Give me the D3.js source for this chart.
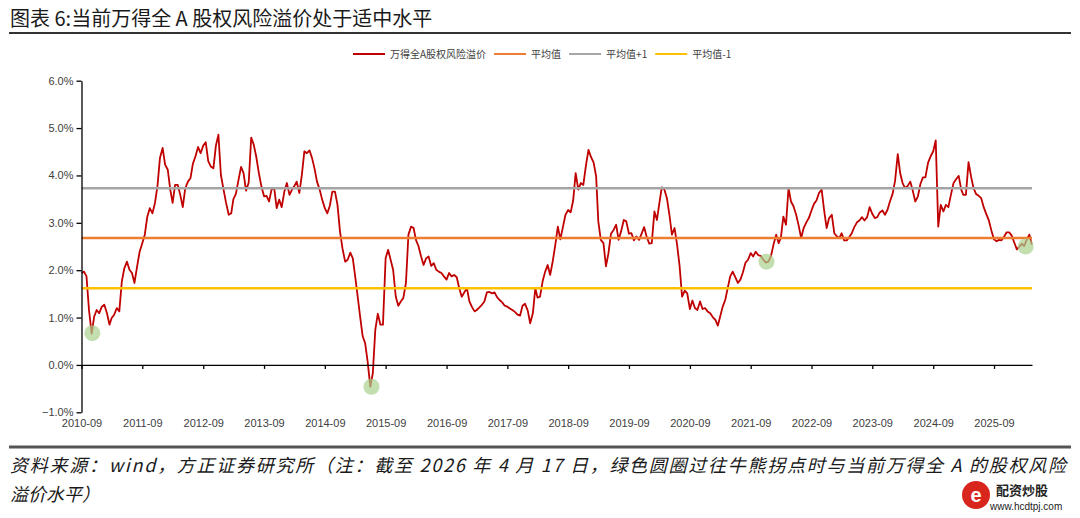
<!DOCTYPE html>
<html>
<head>
<meta charset="utf-8">
<script src="https://cdn.jsdelivr.net/npm/d3@7"></script>
<style>
  body { margin: 0; background: #fff; }
  svg text { font-family: "Liberation Sans", Arial, sans-serif; }
  .cjk { font-family: "Noto Sans CJK SC", "Noto Sans", sans-serif !important; }
</style>
</head>
<body>
<svg id="chart" width="1080" height="518"></svg>
<script>
// =====================
// DATA (semi-monthly readings, 1st and 16th of each month)
// =====================
const startDate = "2010-09-01";
const endDate = "2026-04-17";

const erp2010to2015 = [
  1.94, 1.97, 1.87, 1.16, 0.66, 1.02, 1.16, 1.09, 1.23, 1.27,
  1.09, 0.85, 0.99, 1.06, 1.20, 1.13, 1.76, 2.04, 2.18, 2.01,
  1.94, 1.73, 2.08, 2.39, 2.57, 2.75, 3.13, 3.31, 3.20, 3.42,
  3.77, 4.37, 4.58, 4.23, 4.12, 3.70, 3.42, 3.80, 3.80, 3.59,
  3.33, 3.73, 3.87, 3.94, 4.25, 4.40, 4.60, 4.47, 4.63, 4.70,
  4.30, 4.19, 4.15, 4.63, 4.86, 4.01, 3.70, 3.42, 3.17, 3.20,
  3.50, 3.61, 3.91, 4.18, 4.05, 3.68, 3.85, 4.80, 4.65, 4.40,
  4.05, 3.77, 3.56, 3.57, 3.45, 3.70, 3.73, 3.31, 3.49, 3.33,
  3.66, 3.84, 3.59, 3.70, 3.77, 3.87, 3.63, 4.01, 4.51, 4.47,
  4.53, 4.37, 4.15, 3.87, 3.70, 3.49, 3.31, 3.20, 3.36, 3.66,
  3.66, 3.38, 2.82, 2.46, 2.18, 2.22, 2.37, 2.25, 1.90, 1.48,
  1.02, 0.61, 0.46, 0.07, -0.46, -0.18, 0.74, 1.08, 0.85, 0.85,
  2.25, 2.43, 2.22, 2.01, 1.44, 1.25
];

const erp2016to2020 = [
  1.34, 1.41, 1.73, 2.75, 2.92, 2.89, 2.64, 2.51, 2.29, 2.11,
  2.25, 2.29, 2.09, 2.15, 2.01, 1.97, 1.94, 1.87, 1.80, 1.94,
  1.87, 1.90, 1.85, 1.62, 1.44, 1.53, 1.62, 1.34, 1.22, 1.13,
  1.16, 1.21, 1.27, 1.34, 1.53, 1.54, 1.51, 1.53, 1.43, 1.37,
  1.32, 1.25, 1.23, 1.19, 1.16, 1.12, 1.06, 1.04, 1.25, 1.29,
  1.15, 0.88, 1.09, 1.62, 1.42, 1.44, 1.77, 1.97, 2.11, 1.90,
  2.20, 2.54, 2.92, 2.65, 2.92, 3.17, 3.27, 3.22, 3.47, 4.05,
  3.70, 3.84, 3.80, 4.19, 4.54, 4.39, 4.27, 3.98, 3.03, 2.64,
  2.57, 2.08, 2.36, 2.77, 2.85, 2.96, 2.64, 2.82, 3.06, 3.03,
  2.77, 2.78, 2.63, 2.71, 2.64, 2.77, 2.91, 2.71, 2.56, 2.57,
  3.24, 3.06, 3.40, 3.75, 3.70, 3.52, 3.17, 2.75, 2.89, 2.54,
  2.09, 1.44, 1.57, 1.51, 1.18, 1.36, 1.20, 1.16, 1.34, 1.18,
  1.20, 1.13, 1.09, 1.01, 0.95, 0.83
];

const erp2021to2026 = [
  1.01, 1.22, 1.37, 1.62, 1.87, 1.97, 1.85, 1.73, 1.80, 1.95,
  2.16, 2.22, 2.36, 2.29, 2.39, 2.32, 2.30, 2.22, 2.16, 2.18,
  2.30, 2.54, 2.75, 2.57, 2.68, 3.13, 2.96, 3.73, 3.45, 3.35,
  3.17, 2.94, 2.68, 2.89, 3.01, 3.10, 3.26, 3.40, 3.47, 3.63,
  3.70, 3.26, 2.89, 3.10, 3.17, 2.78, 2.71, 2.68, 2.78, 2.63,
  2.63, 2.70, 2.78, 2.91, 3.01, 3.05, 3.12, 3.05, 3.12, 3.33,
  3.19, 3.10, 3.12, 3.22, 3.26, 3.17, 3.27, 3.45, 3.61, 3.89,
  4.45, 4.04, 3.84, 3.73, 3.78, 3.87, 3.68, 3.45, 3.56, 3.82,
  3.96, 3.96, 4.27, 4.40, 4.51, 4.74, 2.92, 3.38, 3.24, 3.38,
  3.33, 3.59, 3.84, 3.92, 3.99, 3.70, 3.59, 3.59, 4.28, 3.98,
  3.73, 3.61, 3.57, 3.52, 3.33, 3.19, 3.05, 2.84, 2.65, 2.61,
  2.64, 2.63, 2.71, 2.80, 2.80, 2.73, 2.58, 2.44, 2.50, 2.56,
  2.51, 2.64, 2.75, 2.54
];

// mean and +/- one std
const refNames = ["平均值", "平均值+1", "平均值-1"];
const refValues = [2.68, 3.73, 1.62];

// green circles: past bull/bear turning points and now
const turnDates = ["2010-11-05", "2015-06-08", "2021-12-05", "2026-03-10"];
const turnValues = [0.67, -0.46, 2.18, 2.50];

const yTicks = [-1, 0, 1, 2, 3, 4, 5, 6];
const xTickYears = d3.range(2010, 2026);

const seriesName = "万得全A股权风险溢价";
const titleText = "图表 6:当前万得全 A 股权风险溢价处于适中水平";
const noteLines = [
  "资料来源：wind，方正证券研究所（注：截至 2026 年 4 月 17 日，绿色圆圈过往牛熊拐点时与当前万得全 A 的股权风险",
  "溢价水平）"
];

// =====================
// SETUP
// =====================
const parse = d3.timeParse("%Y-%m-%d");
const svg = d3.select("#chart");

const colors = {
  [seriesName]: "#c00000",
  "平均值": "#ed7d31",
  "平均值+1": "#a5a5a5",
  "平均值-1": "#ffc000"
};

const erp = [...erp2010to2015, ...erp2016to2020, ...erp2021to2026];
const start = parse(startDate);
const series = erp.map((v, i) => ({
  date: d3.timeDay.offset(d3.timeMonth.offset(start, Math.floor(i / 2)), (i % 2) * 15),
  value: v
}));

const x = d3.scaleTime()
  .domain([start, parse(endDate)])
  .range([81.5, 1032]);

const y = d3.scaleLinear()
  .domain([-1, 6])
  .range([412.3, 80.7]);

// =====================
// TITLE
// =====================
svg.append("text")
  .attr("class", "cjk")
  .attr("x", 10)
  .attr("y", 26)
  .style("font-size", "20px")
  .style("fill", "#1a1a1a")
  .text(titleText);

svg.append("line")
  .attr("x1", 9).attr("x2", 1071)
  .attr("y1", 33).attr("y2", 33)
  .attr("stroke", "#333")
  .attr("stroke-width", 2);

// =====================
// LINES
// =====================
const line = d3.line()
  .x(d => x(d.date))
  .y(d => y(d.value));

svg.append("path")
  .datum(series)
  .attr("fill", "none")
  .attr("stroke", colors[seriesName])
  .attr("stroke-width", 1.8)
  .attr("stroke-linejoin", "round")
  .attr("d", line);

svg.selectAll(".ref")
  .data(refNames.map((k, i) => ({ key: k, value: refValues[i] })))
  .join("line")
  .attr("class", "ref")
  .attr("x1", x.range()[0])
  .attr("x2", x.range()[1])
  .attr("y1", d => y(d.value))
  .attr("y2", d => y(d.value))
  .attr("stroke", d => colors[d.key])
  .attr("stroke-width", 2.5);

svg.selectAll(".turn")
  .data(turnDates.map((d, i) => ({ date: parse(d), value: turnValues[i] })))
  .join("circle")
  .attr("class", "turn")
  .attr("cx", d => x(d.date))
  .attr("cy", d => y(d.value))
  .attr("r", 8)
  .attr("fill", "#a9d18e")
  .attr("fill-opacity", 0.7);

// =====================
// AXES
// =====================
const yAxis = svg.append("g")
  .attr("transform", `translate(${x.range()[0]},0)`)
  .call(d3.axisLeft(y)
    .tickValues(yTicks)
    .tickFormat(d => d3.format(".1f")(d) + "%")
    .tickSize(5)
    .tickSizeOuter(0)
    .tickPadding(3));

const xTicks = xTickYears.map(yr => new Date(yr, 8, 1));

// axis line at 0% with small ticks
const zeroAxis = svg.append("g")
  .attr("transform", `translate(0,${y(0)})`)
  .call(d3.axisBottom(x)
    .tickValues(xTicks)
    .tickFormat("")
    .tickSize(4)
    .tickSizeOuter(0));

// labels below the plot
const xAxis = svg.append("g")
  .attr("transform", `translate(0,${y(-1)})`)
  .call(d3.axisBottom(x)
    .tickValues(xTicks)
    .tickFormat(d3.timeFormat("%Y-%m"))
    .tickSize(0)
    .tickPadding(7));
xAxis.select(".domain").remove();

[yAxis, zeroAxis].forEach(g => {
  g.selectAll(".domain, line").attr("stroke", "#000").attr("stroke-width", 1.3);
});
[yAxis, xAxis].forEach(g => {
  g.selectAll("text")
    .style("font-size", "11px")
    .style("fill", "#404040");
});

// =====================
// LEGEND
// =====================
const legendKeys = [seriesName, ...refNames];
let lx = 353;
legendKeys.forEach(k => {
  svg.append("line")
    .attr("x1", lx).attr("x2", lx + 32)
    .attr("y1", 54).attr("y2", 54)
    .attr("stroke", colors[k])
    .attr("stroke-width", 2);
  const t = svg.append("text")
    .attr("class", "cjk")
    .attr("x", lx + 37)
    .attr("y", 57.5)
    .style("font-size", "10px")
    .style("fill", "#404040")
    .text(k);
  lx += 37 + t.node().getComputedTextLength() + 8;
});

// =====================
// FOOTER
// =====================
svg.append("line")
  .attr("x1", 9).attr("x2", 1071)
  .attr("y1", 447).attr("y2", 447)
  .attr("stroke", "#555")
  .attr("stroke-width", 3);

svg.selectAll(".note")
  .data(noteLines)
  .join("text")
  .attr("class", "note cjk")
  .attr("x", 10)
  .attr("y", (d, i) => 472 + i * 29)
  .attr("textLength", (d, i) => i === 0 ? 1056 : null)
  .attr("lengthAdjust", "spacing")
  .style("font-size", "18px")
  .style("font-style", "italic")
  .style("fill", "#1a1a1a")
  .text(d => d);

// source logo, bottom right
svg.append("circle")
  .attr("cx", 976).attr("cy", 495).attr("r", 14)
  .attr("fill", "#d9261c");
svg.append("text")
  .attr("x", 976).attr("y", 502)
  .attr("text-anchor", "middle")
  .style("font-size", "20px")
  .style("font-weight", "bold")
  .style("fill", "#fff")
  .text("e");
svg.append("text")
  .attr("class", "cjk")
  .attr("x", 996).attr("y", 495)
  .style("font-size", "13px")
  .style("font-weight", "bold")
  .style("fill", "#222")
  .text("配资炒股");
svg.append("text")
  .attr("x", 990).attr("y", 510)
  .style("font-size", "10px")
  .style("fill", "#222")
  .text("www.hcdtpj.com");
</script>
</body>
</html>
